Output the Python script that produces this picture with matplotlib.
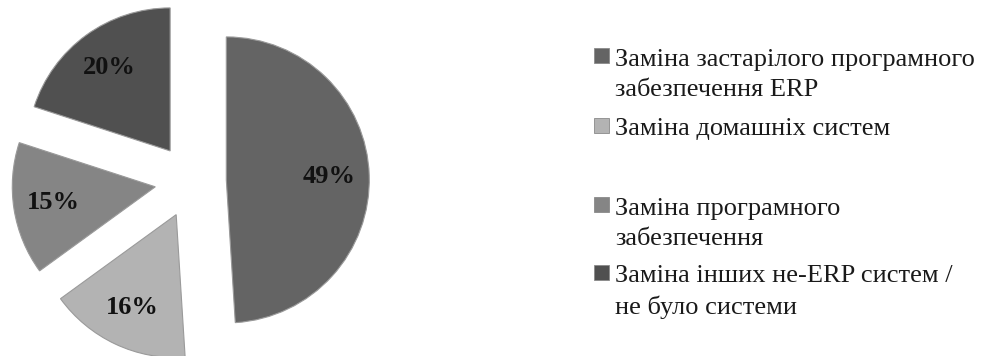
import matplotlib
matplotlib.use("Agg")
import matplotlib.pyplot as plt
import matplotlib.patches as mpatches
from matplotlib.legend_handler import HandlerPatch

#
# Datos
#
labels = [
    "Заміна застарілого програмного\nзабезпечення ERP",
    "Заміна домашніх систем",
    "Заміна програмного\nзабезпечення",
    "Заміна інших не-ERP систем /\nне було системи",
]
shares = [49, 16, 15, 20]
colors = ["#646464", "#b3b3b3", "#858585", "#505050"]
explode = [0.24, 0.26, 0.26, 0.26]

plt.rcParams["font.family"] = ["Liberation Serif", "DejaVu Serif"]

fig = plt.figure(figsize=(9.89, 3.56), dpi=100)
ax = fig.add_axes([0, 0, 400 / 989, 1])

wedges, texts, autotexts = ax.pie(
    shares,
    colors=colors,
    explode=explode,
    startangle=90,
    counterclock=False,
    autopct="%d%%",
    pctdistance=0.72,
    wedgeprops=dict(edgecolor="#9a9a9a", linewidth=0.8),
    textprops=dict(fontsize=19, fontweight="bold", color="#111111"),
)

# centro de la torta en (192, 181) px, radio 143 px
ax.set_aspect("auto")
ax.set_xlim(-192 / 143, (400 - 192) / 143)
ax.set_ylim(-(356 - 181) / 143, 181 / 143)
ax.axis("off")


#
# Leyenda: el cuadro va a la altura de la primera línea
#
def square_handler(n_lines):
    def top_square(legend, orig_handle, xdescent, ydescent, width, height, fontsize):
        s = 0.57 * fontsize
        yc = 0.36 * fontsize if n_lines == 1 else 1.06 * fontsize
        return mpatches.Rectangle((0, yc - s / 2), s, s)

    return HandlerPatch(patch_func=top_square)


handles = [
    mpatches.Patch(facecolor=c, edgecolor="#8a8a8a", linewidth=0.6) for c in colors
]
handler_map = {h: square_handler(l.count("\n") + 1) for h, l in zip(handles, labels)}

groups = [(0, 2, 49), (2, 4, 198)]
for i0, i1, top in groups:
    leg = fig.legend(
        handles[i0:i1],
        labels[i0:i1],
        loc="upper left",
        bbox_to_anchor=(594 / 989, 1 - top / 356),
        frameon=False,
        fontsize=19,
        handlelength=0.57,
        handletextpad=0.22,
        labelspacing=0.6,
        borderpad=0,
        borderaxespad=0,
        handler_map=handler_map,
        labelcolor="#1a1a1a",
    )
    for t in leg.get_texts():
        t.set_linespacing(1.45)

fig.savefig("out.png", dpi=100)
